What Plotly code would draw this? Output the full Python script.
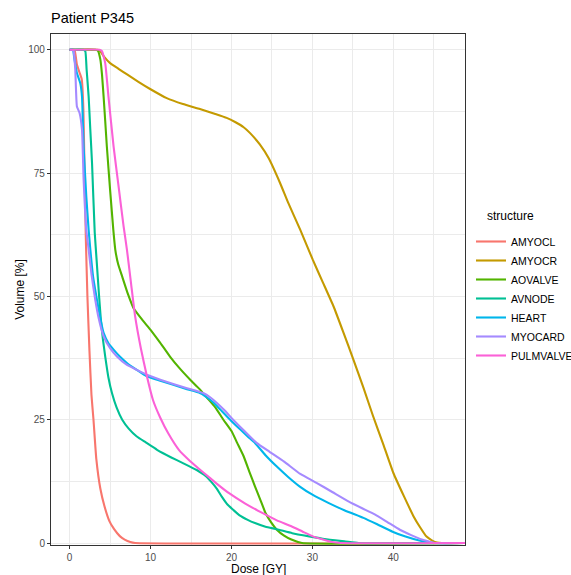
import plotly.graph_objects as go

structures = ["AMYOCL", "AMYOCR", "AOVALVE", "AVNODE", "HEART", "MYOCARD", "PULMVALVE"]
colors = ["#F8766D", "#C49A00", "#53B400", "#00C094", "#00B6EB", "#A58AFF", "#FB61D7"]

amyocl_dose = [0, 0.6, 0.9, 1.2, 1.5, 1.7, 1.85, 2.0, 2.2, 2.45, 2.7, 2.95, 3.3, 3.8, 4.3, 4.9, 5.5, 6.2, 6.8, 7.5, 8.1, 49]
amyocl_vol = [100, 100, 97, 95.5, 94, 88, 75, 62, 50, 39, 30, 25, 17, 11, 7.5, 4.5, 2.8, 1.4, 0.7, 0.2, 0, 0]

amyocr_dose = [0, 3.5, 3.8, 4.3, 5.0, 6.0, 7.1, 8.5, 10.0, 12.0, 14.0, 16.1, 18.0, 19.4, 20.5, 21.5, 22.3, 23.5, 24.6, 26, 27, 28.5, 30.05, 31.3, 32.6, 33.8, 35.06, 36.3, 37.5, 38.8, 40.0, 41.3, 42.5, 43.3, 44.1, 44.8, 45.4, 46, 49]
amyocr_vol = [100, 100, 99.7, 98.5, 97.3, 96.2, 95, 93.5, 92, 90.2, 89, 88, 87, 86.2, 85.3, 84.3, 83.1, 80.8, 78, 73, 69, 63.5, 57.4, 52.8, 48, 42.8, 37.2, 31.5, 25.7, 19.8, 14.2, 9.5, 5.4, 3.2, 1.3, 0.5, 0.1, 0, 0]

aovalve_dose = [0, 3.2, 3.5, 3.8, 4.0, 4.2, 4.4, 4.6, 5.0, 5.4, 5.64, 6.0, 6.5, 7.2, 7.9, 9.0, 10.0, 11.2, 12.4, 13.6, 14.9, 16.0, 17.0, 18.0, 19.0, 20.0, 20.7, 21.5, 22.2, 22.9, 23.6, 24.2, 24.9, 25.6, 26.5, 27.4, 28.7, 49]
aovalve_vol = [100, 100, 99.8, 98, 95, 90.5, 85.5, 80.4, 71.6, 63.5, 59.5, 56.5, 54, 50.5, 47.6, 45.2, 43.2, 40.6, 37.8, 35.4, 33.1, 31.3, 29.4, 27.5, 25, 22.7, 20.3, 17.6, 14.5, 11.5, 8.6, 6.1, 4.2, 2.7, 1.5, 0.7, 0, 0]

avnode_dose = [0, 1.7, 1.94, 2.1, 2.35, 2.55, 2.77, 3.1, 3.35, 3.6, 3.85, 4.1, 4.4, 4.8, 5.23, 5.8, 6.5, 7.3, 8.3, 9.4, 10.8, 12.5, 14.0, 15.7, 16.8, 17.5, 18.2, 18.8, 19.5, 20.2, 21.0, 22.0, 22.9, 24.2, 25.6, 27.5, 29.6, 31.5, 34.1, 35.7, 49]
avnode_vol = [100, 100, 99.7, 96, 90.5, 84, 77, 63, 57, 51, 45.5, 41.5, 37.8, 33.5, 30.4, 27.5, 25, 23.2, 21.6, 20.4, 18.9, 17.4, 16.2, 14.8, 13.6, 12.4, 11.0, 9.4, 7.8, 6.75, 5.6, 4.7, 4.05, 3.3, 2.8, 2.0, 1.35, 0.8, 0.3, 0, 0]

heart_dose = [0, 0.4, 0.6, 0.9, 1.32, 1.53, 1.73, 2.06, 2.35, 2.56, 2.9, 3.38, 3.8, 4.2, 4.8, 5.43, 6.2, 7.08, 8.3, 9.55, 11.2, 12.8, 14.5, 16.1, 17.4, 18.2, 19.0, 20.0, 21.1, 22.0, 22.9, 24.2, 25.6, 27.0, 28.4, 30.0, 31.9, 34.0, 36.3, 38.0, 39.9, 41.5, 43.2, 44.3, 45.2, 49]
heart_vol = [100, 100, 98, 95.3, 93.2, 90.5, 80.4, 70.3, 63.5, 59.5, 54, 49.3, 45.5, 42.6, 40.5, 39.2, 37.8, 36.5, 35.1, 33.8, 32.9, 32.1, 31.2, 30.4, 29.0, 27.8, 26.4, 24.7, 23.0, 21.6, 20.3, 17.8, 15.5, 13.4, 11.5, 9.8, 8.2, 6.6, 5.1, 3.8, 2.3, 1.3, 0.5, 0.15, 0, 0]

myocard_dose = [0, 0.4, 0.5, 0.7, 0.9, 1.23, 1.53, 1.73, 2.06, 2.35, 2.7, 3.17, 3.6, 4.2, 5.0, 5.85, 7.0, 8.3, 9.7, 11.2, 12.9, 14.5, 16.5, 17.4, 18.2, 19.2, 20.2, 21.6, 23.1, 24.7, 26.5, 28.5, 30.5, 32.5, 34.5, 36.2, 37.7, 39.3, 40.8, 42.2, 43.5, 44.4, 45.2, 49]
myocard_vol = [100, 100, 99.7, 96, 88.5, 87.2, 83.8, 73.7, 63.5, 59.5, 54.5, 49.3, 45.5, 41.9, 39.5, 37.8, 36.2, 35.1, 34.0, 33.1, 32.2, 31.4, 30.4, 29.5, 28.4, 26.8, 25.0, 22.7, 20.3, 18.5, 16.5, 14.0, 12.2, 10.3, 8.4, 7.0, 5.8, 4.2, 2.7, 1.6, 0.7, 0.3, 0, 0]

pulmvalve_dose = [0, 3.7, 4.0, 4.4, 4.8, 5.43, 6.05, 6.67, 7.08, 7.6, 8.1, 8.8, 9.55, 10.3, 11.2, 12.2, 13.5, 14.9, 16.6, 18.2, 19.7, 21.7, 23.8, 25.6, 27.4, 28.8, 30.05, 31.3, 32.4, 33.5, 49]
pulmvalve_vol = [100, 100, 99.7, 97.3, 90.5, 80.4, 72.3, 64.2, 59.5, 52.5, 45.9, 39.5, 33.8, 29, 25.4, 22.2, 18.9, 16.6, 14.2, 12.0, 10.1, 8.0, 6.1, 4.6, 3.4, 2.3, 1.35, 0.7, 0.2, 0, 0]

x_ticks = [0, 10, 20, 30, 40]
y_ticks = [0, 25, 50, 75, 100]

doses = [amyocl_dose, amyocr_dose, aovalve_dose, avnode_dose, heart_dose, myocard_dose, pulmvalve_dose]
vols = [amyocl_vol, amyocr_vol, aovalve_vol, avnode_vol, heart_vol, myocard_vol, pulmvalve_vol]

FONT = "Liberation Sans, Arial, sans-serif"

fig = go.Figure()
for name, col, d, v in zip(structures, colors, doses, vols):
    fig.add_trace(go.Scatter(x=d, y=v, mode="lines", name=name,
                             line=dict(color=col, width=2.1, shape="spline", smoothing=0.4)))

W, H = 571, 575
L, R, T, B = 51, 106, 34, 30
PW, PH = W - L - R, H - T - B

axis_common = dict(
    showline=True, mirror=True, linecolor="#333333", linewidth=1.1,
    ticks="outside", ticklen=3, tickcolor="#333333", tickwidth=1,
    tickfont=dict(family=FONT, size=10, color="#4D4D4D"),
    showgrid=True, gridcolor="#EBEBEB", gridwidth=1.1,
    zeroline=False,
    minor=dict(showgrid=True, gridcolor="#EBEBEB", gridwidth=0.55, ticks=""),
)

fig.update_xaxes(range=[-2.3, 48.85], tickvals=x_ticks, ticktext=[str(t) for t in x_ticks],
                 minor_dtick=5, minor_tick0=5, **axis_common)
fig.update_yaxes(range=[-0.4, 103.2], tickvals=y_ticks, ticktext=[str(t) for t in y_ticks],
                 minor_dtick=12.5, minor_tick0=12.5,
                 title=dict(text="Volume [%]", font=dict(family=FONT, size=12, color="black"), standoff=1),
                 **axis_common)

fig.update_layout(
    width=W, height=H,
    margin=dict(l=L, r=R, t=T, b=B, autoexpand=False),
    paper_bgcolor="white", plot_bgcolor="white",
    font=dict(family=FONT, color="black"),
    title=dict(text="Patient P345", x=L / W, xanchor="left", xref="container",
               y=1 - 18 / H, yanchor="middle", yref="container",
               font=dict(family=FONT, size=14.5, color="black")),
    showlegend=True,
    legend=dict(x=(471 - L) / PW, xanchor="left", xref="paper",
                y=1 - (227 - T) / PH, yanchor="top", yref="paper",
                font=dict(family=FONT, size=10.5, color="black"),
                itemwidth=30, tracegroupgap=0, bgcolor="rgba(0,0,0,0)"),
    annotations=[
        dict(text="structure", x=(485 - L) / PW, xref="paper", xanchor="left",
             y=1 - (216 - T) / PH, yref="paper", yanchor="middle",
             showarrow=False, font=dict(family=FONT, size=12, color="black")),
        dict(text="Dose [GY]", x=0.5, xref="paper", xanchor="center",
             y=-(568.5 - (H - B)) / PH, yref="paper", yanchor="middle",
             showarrow=False, font=dict(family=FONT, size=12, color="black")),
    ],
)

fig.write_html("out.html", config={"displayModeBar": False},
               post_script="document.body.style.margin='0';document.body.style.padding='0';")
